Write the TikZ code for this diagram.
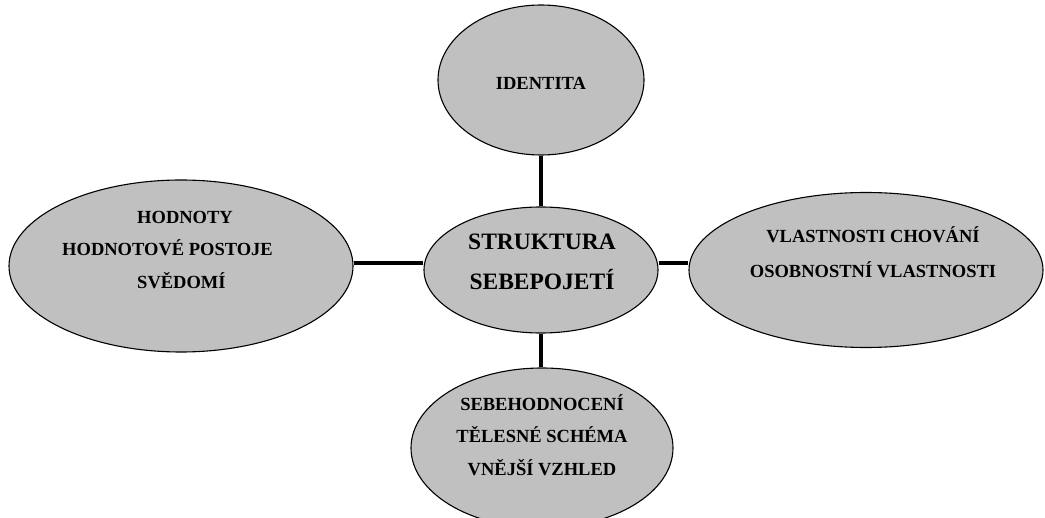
\documentclass[tikz,border=0pt]{standalone}
\usepackage{fontspec}
\setmainfont{Liberation Serif}
\usepackage{xcolor}
\usetikzlibrary{shapes.geometric, positioning}
\definecolor{bubblegray}{HTML}{C0C0C0}
\tikzset{
  bubble/.style={ellipse, draw, fill=bubblegray, line width=1.1pt, inner sep=0pt},
  caption/.style={font=\bfseries\fontsize{18.5}{32.5}\selectfont, align=center, inner sep=0pt},
  link/.style={line width=4.5pt}
}

\begin{document}
\begin{tikzpicture}[x=1pt, y=-1pt]
\useasboundingbox (0,0) rectangle (1045,518);
% ellipses
\node[bubble, minimum width=206, minimum height=150] (identita) at (541,80) {};
\node[bubble, minimum width=234, minimum height=126] (struktura) at (541,270) {};
\node[bubble, minimum width=344, minimum height=172] (hodnoty) at (181,266) {};
\node[bubble, minimum width=354, minimum height=155] (vlastnosti) at (866,270) {};
\node[bubble, minimum width=262, minimum height=160] (sebe) at (542,448) {};
% texts
\node[caption] (identitaT) at (541,83) {IDENTITA};
\node[caption, font=\bfseries\fontsize{23.5}{40}\selectfont] (strukturaT) at (542,262) {STRUKTURA\\SEBEPOJETÍ};
\node[caption, align=left] (hodnotyT) at (167.5,250) {\hspace*{75pt}HODNOTY\\HODNOTOVÉ POSTOJE\\\hspace*{75pt}SVĚDOMÍ};
\node[caption, font=\bfseries\fontsize{18.5}{35}\selectfont] (vlastnostiT) at (873,252.5) {VLASTNOSTI CHOVÁNÍ\\OSOBNOSTNÍ VLASTNOSTI};
\node[caption] (sebeT) at (542,435) {SEBEHODNOCENÍ\\TĚLESNÉ SCHÉMA\\VNĚJŠÍ VZHLED};
% connectors
\draw[link] (identita.south) -- (struktura.north);
\draw[link] (struktura.south) -- (struktura.south |- sebe.north);
\draw[link] ([yshift=3pt]hodnoty.east) -- ([yshift=3pt]hodnoty.east -| struktura.west);
\draw[link] ([yshift=7pt]struktura.east) -- ([yshift=7pt]struktura.east -| vlastnosti.west);
\end{tikzpicture}
\end{document}
